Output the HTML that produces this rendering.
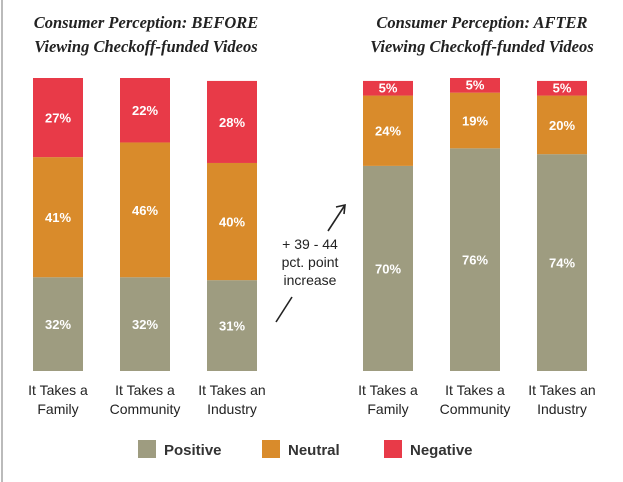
<!DOCTYPE html>
<html><head><meta charset="utf-8"><style>
body{margin:0;background:#fff;width:623px;height:482px;overflow:hidden}
svg{display:block}
</style></head><body>
<svg id="c" width="623" height="482" font-family="Liberation Sans, sans-serif">
<line x1="2" y1="0" x2="2" y2="482" stroke="#bbb" stroke-width="2"/>
<g font-family="Liberation Serif, serif" font-weight="bold" font-style="italic" font-size="16.5" fill="#222" text-anchor="middle">
<text x="146" y="28">Consumer Perception: BEFORE</text>
<text x="146" y="52">Viewing Checkoff-funded Videos</text>
<text x="482" y="28">Consumer Perception: AFTER</text>
<text x="482" y="52">Viewing Checkoff-funded Videos</text>
</g>
<g font-size="14" fill="#222" text-anchor="middle">
<text x="310" y="249">+ 39 - 44</text>
<text x="310" y="267">pct. point</text>
<text x="310" y="285">increase</text>
</g>
<g stroke="#222" stroke-width="1.6" fill="none">
<line x1="276" y1="322" x2="292" y2="297"/>
<line x1="328" y1="231" x2="345" y2="205"/>
<polyline points="336,207 345,205 344,214"/>
</g>
<g id="bars"></g>
<g id="legend" font-size="15" font-weight="bold" fill="#333">
<rect x="138" y="440" width="18" height="18" fill="#9e9c80"/>
<text x="164" y="455">Positive</text>
<rect x="262" y="440" width="18" height="18" fill="#d98b2b"/>
<text x="288" y="455">Neutral</text>
<rect x="384" y="440" width="18" height="18" fill="#e83a48"/>
<text x="410" y="455">Negative</text>
</g>
</svg>
<script>
const categories = ["It Takes a|Family","It Takes a|Community","It Takes an|Industry"];
const beforePositive = [32,32,31];
const beforeNeutral = [41,46,40];
const beforeNegative = [27,22,28];
const afterPositive = [70,76,74];
const afterNeutral = [24,19,20];
const afterNegative = [5,5,5];
const colors = {pos:"#9e9c80", neu:"#d98b2b", neg:"#e83a48"};
const NS = "http://www.w3.org/2000/svg";
const g = document.getElementById('bars');
const baseY = 371, scale = 2.93, barW = 50;
function y(v){ return baseY - v*scale; }
function drawPanel(xs, pos, neu, neg, tag){
  xs.forEach((x,i)=>{
    const segs=[["positive",pos[i],colors.pos],["neutral",neu[i],colors.neu],["negative",neg[i],colors.neg]];
    let acc=0;
    segs.forEach(([nm,v,c])=>{
      const r=document.createElementNS(NS,'rect');
      r.setAttribute('x',x); r.setAttribute('y',y(acc+v)); r.setAttribute('width',barW); r.setAttribute('height',v*scale); r.setAttribute('fill',c);
      
      
      g.appendChild(r);
      const t=document.createElementNS(NS,'text');
      const cy=(y(acc)+y(acc+v))/2;
      t.setAttribute('x',x+barW/2); t.setAttribute('y',v<8?cy+4:cy+5);
      t.setAttribute('text-anchor','middle'); t.setAttribute('fill','#fff'); t.setAttribute('font-weight','bold'); t.setAttribute('font-size','13');
      t.textContent=v+'%';
      
      
      g.appendChild(t);
      acc+=v;
    });
    const parts=categories[i].split('|');
    parts.forEach((p,k)=>{
      const t=document.createElementNS(NS,'text');
      t.setAttribute('x',x+barW/2); t.setAttribute('y',395+k*19);
      t.setAttribute('text-anchor','middle'); t.setAttribute('fill','#222'); t.setAttribute('font-size','14');
      t.textContent=p;
      
      
      g.appendChild(t);
    });
  });
}
drawPanel([33,120,207], beforePositive, beforeNeutral, beforeNegative, 'before');
drawPanel([363,450,537], afterPositive, afterNeutral, afterNegative, 'after');
</script>
</body></html>
